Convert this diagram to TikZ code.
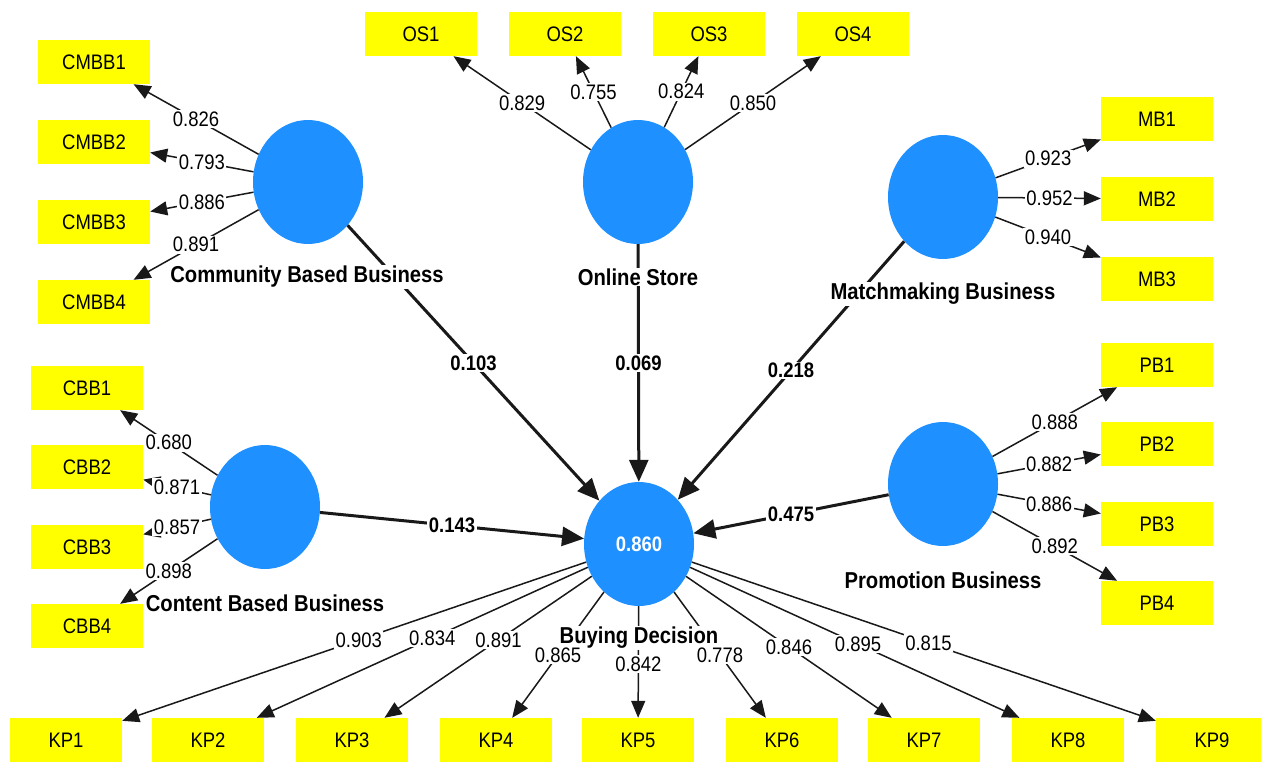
\documentclass[tikz,border=0pt]{standalone}
\usepackage{fontspec}
\setmainfont[FakeStretch=0.88]{Liberation Sans}
\usetikzlibrary{shapes.geometric,arrows.meta}
\definecolor{lvblue}{RGB}{30,144,255}
\definecolor{mvyellow}{RGB}{255,255,0}
\definecolor{pathgray}{RGB}{25,25,25}

\begin{document}
\begin{tikzpicture}[x=1pt,y=-1pt,
    load/.style={draw=pathgray,line width=1.5pt,-{Triangle[length=17pt,width=14pt]}},
    inner/.style={draw=pathgray,line width=3pt,-{Triangle[length=22pt,width=19pt]}},
    lbl/.style={fill=white,inner sep=1.5pt,font=\fontsize{21}{21}\selectfont},
    blbl/.style={fill=white,inner sep=1.5pt,font=\fontsize{21}{21}\selectfont\bfseries},
    lvname/.style={fill=white,inner sep=1pt,font=\fontsize{23}{23}\selectfont\bfseries}]
    \useasboundingbox[fill=white] (0,0) rectangle (1261,763);
    % indicators
    \begin{scope}[every node/.style={rectangle,fill=mvyellow,minimum width=112pt,minimum height=44pt,inner sep=0pt,font=\fontsize{21}{21}\selectfont}]
        \node (CMBB1) at (94,62) {CMBB1};
        \node (CMBB2) at (94,142) {CMBB2};
        \node (CMBB3) at (94,222) {CMBB3};
        \node (CMBB4) at (94,302) {CMBB4};
        \node (OS1) at (421,34) {OS1};
        \node (OS2) at (565,34) {OS2};
        \node (OS3) at (709,34) {OS3};
        \node (OS4) at (853,34) {OS4};
        \node (MB1) at (1157,119) {MB1};
        \node (MB2) at (1157,199) {MB2};
        \node (MB3) at (1157,279) {MB3};
        \node (PB1) at (1157,365) {PB1};
        \node (PB2) at (1157,444) {PB2};
        \node (PB3) at (1157,524) {PB3};
        \node (PB4) at (1157,603) {PB4};
        \node (CBB1) at (87,388) {CBB1};
        \node (CBB2) at (87,467) {CBB2};
        \node (CBB3) at (87,547) {CBB3};
        \node (CBB4) at (87,626) {CBB4};
        \node (KP1) at (66,740) {KP1};
        \node (KP2) at (208,740) {KP2};
        \node (KP3) at (352,740) {KP3};
        \node (KP4) at (496,740) {KP4};
        \node (KP5) at (638,740) {KP5};
        \node (KP6) at (782,740) {KP6};
        \node (KP7) at (924,740) {KP7};
        \node (KP8) at (1068,740) {KP8};
        \node (KP9) at (1212,740) {KP9};
    \end{scope}
    % constructs
    \begin{scope}[every node/.style={ellipse,fill=lvblue,minimum width=110pt,minimum height=124pt,inner sep=0pt}]
        \node (CMBB) at (308,182) {};
        \node (OS) at (638,182) {};
        \node (MB) at (943,197) {};
        \node (CBB) at (265,507) {};
        \node (PB) at (943,484) {};
        \node [text=white,font=\fontsize{21}{21}\selectfont\bfseries] (BD) at (639,544) {0.860};
    \end{scope}
    % inner model
    \begin{scope}[every edge/.style={inner}]
        \draw (CMBB) edge node[blbl]{0.103} (BD);
        \draw (OS) edge node[blbl]{0.069} (BD);
        \draw (MB) edge node[blbl]{0.218} (BD);
        \draw (CBB) edge node[blbl]{0.143} (BD);
        \draw (PB) edge node[blbl]{0.475} (BD);
    \end{scope}
    % outer model
    \begin{scope}[every edge/.style={load}]
        \draw (CMBB) edge node[lbl]{0.826} (CMBB1);
        \draw (CMBB) edge node[lbl]{0.793} (CMBB2);
        \draw (CMBB) edge node[lbl]{0.886} (CMBB3);
        \draw (CMBB) edge node[lbl]{0.891} (CMBB4);
        \draw (OS) edge node[lbl]{0.829} (OS1);
        \draw (OS) edge node[lbl]{0.755} (OS2);
        \draw (OS) edge node[lbl]{0.824} (OS3);
        \draw (OS) edge node[lbl]{0.850} (OS4);
        \draw (MB) edge node[lbl]{0.923} (MB1);
        \draw (MB) edge node[lbl]{0.952} (MB2);
        \draw (MB) edge node[lbl]{0.940} (MB3);
        \draw (PB) edge node[lbl]{0.888} (PB1);
        \draw (PB) edge node[lbl]{0.882} (PB2);
        \draw (PB) edge node[lbl]{0.886} (PB3);
        \draw (PB) edge node[lbl]{0.892} (PB4);
        \draw (CBB) edge node[lbl]{0.680} (CBB1);
        \draw (CBB) edge node[lbl]{0.871} (CBB2);
        \draw (CBB) edge node[lbl]{0.857} (CBB3);
        \draw (CBB) edge node[lbl]{0.898} (CBB4);
        \draw (BD) edge (KP1);
        \draw (BD) edge (KP2);
        \draw (BD) edge (KP3);
        \draw (BD) edge (KP4);
        \draw (BD) edge (KP5);
        \draw (BD) edge (KP6);
        \draw (BD) edge (KP7);
        \draw (BD) edge (KP8);
        \draw (BD) edge (KP9);
    \end{scope}
    \node[lvname] (BDname) at (639,638) {Buying Decision};
    \path (BD) -- (KP1) node[lbl,pos=.49]{0.903};
    \path (BD) -- (KP2) node[lbl,pos=.47]{0.834};
    \path (BD) -- (KP3) node[lbl,pos=.45]{0.891};
    \path (BD) -- (KP4) node[lbl,pos=.5]{0.865};
    \path (BD) -- (KP5) node[lbl,pos=.52]{0.842};
    \path (BD) -- (KP6) node[lbl,pos=.5]{0.778};
    \path (BD) -- (KP7) node[lbl,pos=.5]{0.846};
    \path (BD) -- (KP8) node[lbl,pos=.51]{0.895};
    \path (BD) -- (KP9) node[lbl,pos=.51]{0.815};
    % construct names
    \node[lvname] (CMBBname) at (307,277) {Community Based Business};
    \node[lvname] (OSname) at (638,277) {Online Store};
    \node[lvname] (MBname) at (943,294) {Matchmaking Business};
    \node[lvname] (CBBname) at (265,603) {Content Based Business};
    \node[lvname] (PBname) at (943,580) {Promotion Business};
\end{tikzpicture}
\end{document}
